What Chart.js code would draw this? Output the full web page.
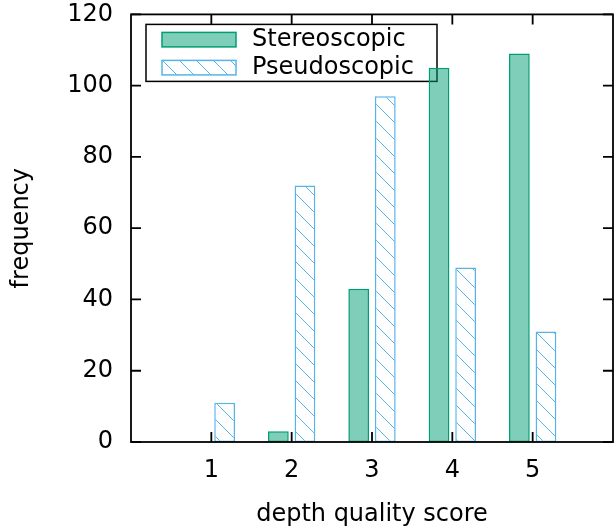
<!DOCTYPE html>
<html>
<head>
<meta charset="utf-8">
<script src="https://cdn.jsdelivr.net/npm/chart.js@4"></script>
<style>
  html, body { margin: 0; padding: 0; background: #fff; }
</style>
</head>
<body>
<canvas id="myChart" width="614" height="529"></canvas>
<script>
const scores = [1, 2, 3, 4, 5];
const stereoscopic = [0, 3, 43, 105, 109];
const pseudoscopic = [11, 72, 97, 49, 31];
const yTicks = [0, 20, 40, 60, 80, 100, 120];

const font = { family: "'DejaVu Sans', sans-serif", size: 24 };

// diagonal hatch like gnuplot's fill pattern (pixel stairs, no antialiasing)
function hatch(color) {
  const c = document.createElement('canvas');
  c.width = 17; c.height = 17;
  const g = c.getContext('2d');
  g.fillStyle = '#fff';
  g.fillRect(0, 0, 17, 17);
  g.fillStyle = color;
  for (let i = 0; i < 17; i++) g.fillRect(i, i, 1, 1);
  return g.createPattern(c, 'repeat');
}

// legend box inside the plot, drawn under the bars
const keyBox = {
  id: 'keyBox',
  beforeDatasetsDraw(chart) {
    const { ctx, chartArea: a } = chart;
    const ds = chart.data.datasets;
    ctx.save();
    ctx.fillStyle = '#fff';
    ctx.strokeStyle = '#000';
    ctx.lineWidth = 1.5;
    ctx.fillRect(a.left + 15, a.top + 10, 291, 57);
    ctx.strokeRect(a.left + 15, a.top + 10, 291, 57);
    ds.forEach((d, i) => {
      const yy = a.top + 18 + i * 28;
      ctx.fillStyle = d.backgroundColor;
      ctx.fillRect(a.left + 31, yy, 74, 14.5);
      ctx.strokeStyle = d.borderColor;
      ctx.lineWidth = 1.5;
      ctx.strokeRect(a.left + 31, yy, 74, 14.5);
      ctx.fillStyle = '#000';
      ctx.font = '24px "DejaVu Sans", sans-serif';
      ctx.textBaseline = 'middle';
      ctx.textAlign = 'left';
      ctx.fillText(d.label, a.left + 121, yy + 7.5);
    });
    ctx.restore();
  }
};

// full frame with inward ticks on all four sides
const frame = {
  id: 'frame',
  afterDatasetsDraw(chart) {
    const { ctx, chartArea: a, scales: { x, y } } = chart;
    ctx.save();
    ctx.strokeStyle = '#000';
    ctx.lineWidth = 1.8;
    ctx.strokeRect(a.left, a.top, a.right - a.left, a.bottom - a.top);
    ctx.beginPath();
    y.ticks.forEach(t => {
      const py = y.getPixelForValue(t.value);
      ctx.moveTo(a.left, py); ctx.lineTo(a.left + 10, py);
      ctx.moveTo(a.right, py); ctx.lineTo(a.right - 10, py);
    });
    x.ticks.forEach(t => {
      const px = x.getPixelForValue(t.value);
      ctx.moveTo(px, a.bottom); ctx.lineTo(px, a.bottom - 10);
      ctx.moveTo(px, a.top); ctx.lineTo(px, a.top + 10);
    });
    ctx.stroke();
    ctx.restore();
  }
};

new Chart(document.getElementById('myChart'), {
  type: 'bar',
  data: {
    datasets: [{
      label: 'Stereoscopic',
      data: scores.map((s, i) => ({ x: s, y: stereoscopic[i] })),
      backgroundColor: 'rgba(0, 158, 115, 0.5)',
      borderColor: '#009e73',
      borderWidth: 1.5,
      borderSkipped: false
    }, {
      label: 'Pseudoscopic',
      data: scores.map((s, i) => ({ x: s, y: pseudoscopic[i] })),
      backgroundColor: hatch('#56b4e9'),
      borderColor: '#56b4e9',
      borderWidth: 1.5,
      borderSkipped: false
    }]
  },
  options: {
    responsive: false,
    animation: false,
    categoryPercentage: 0.662,
    barPercentage: 0.78,
    layout: { padding: { top: 0, right: 1, left: 0, bottom: 0 } },
    plugins: { legend: { display: false }, tooltip: { enabled: false } },
    scales: {
      x: {
        type: 'linear',
        min: 0,
        max: 6,
        offset: false,
        grid: { display: false, drawTicks: false },
        border: { display: false },
        afterBuildTicks: s => { s.ticks = scores.map(v => ({ value: v })); },
        ticks: { padding: 14, color: '#000', font: font, maxRotation: 0 },
        title: { display: true, text: 'depth quality score', color: '#000', font: font, padding: { top: 0, bottom: 0 } },
        afterFit: s => { s.height = 87; }
      },
      y: {
        min: 0,
        max: 120,
        grid: { display: false, drawTicks: true, tickLength: 18 },
        border: { display: false },
        afterBuildTicks: s => { s.ticks = yTicks.map(v => ({ value: v })); },
        ticks: { padding: 0, color: '#000', font: font },
        title: { display: true, text: 'frequency', color: '#000', font: font, padding: { top: 7, bottom: 0 } },
        afterFit: s => { s.width = 131; }
      }
    }
  },
  plugins: [keyBox, frame]
});
</script>
</body>
</html>
